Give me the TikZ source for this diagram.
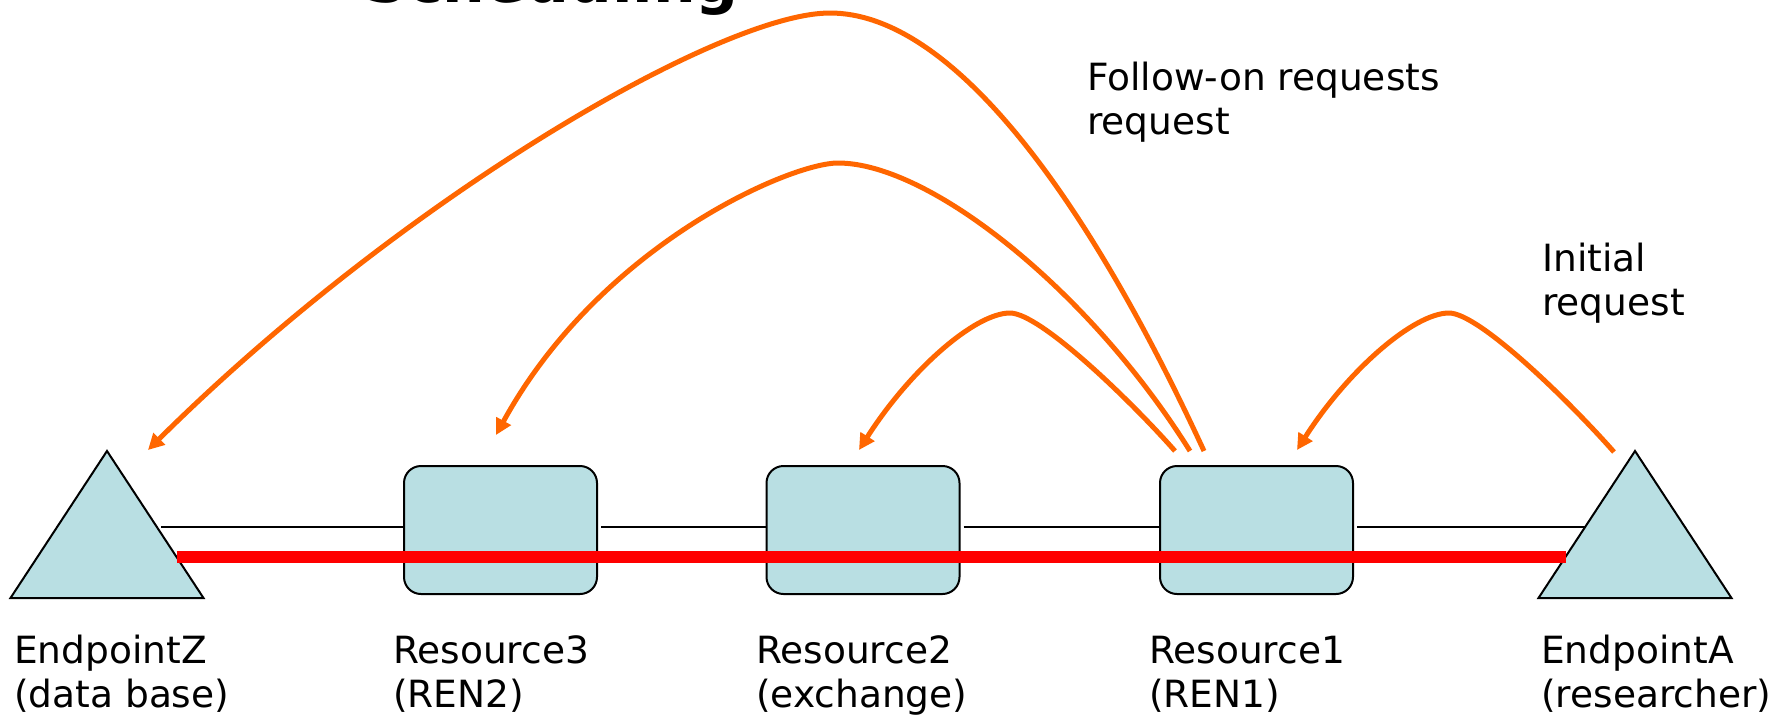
\documentclass[tikz,border=0pt]{standalone}
\usepackage{fontspec}
\setmainfont{DejaVu Sans}
\usetikzlibrary{shapes.geometric,arrows.meta,calc}
\definecolor{boxblue}{RGB}{185,223,227}
\definecolor{reqorange}{RGB}{255,102,0}
\definecolor{pathred}{RGB}{255,0,0}
\tikzset{
  resbox/.style={rectangle, rounded corners=17pt, minimum width=193pt, minimum height=128pt,
    draw=black, line width=2pt, fill=boxblue, inner sep=0pt, outer sep=0pt},
  endtri/.style={isosceles triangle, isosceles triangle stretches, shape border rotate=90,
    minimum width=193pt, minimum height=147pt, inner sep=0pt, outer sep=0pt,
    draw=black, line width=2pt, fill=boxblue},
  link/.style={draw=black, line width=2pt, shorten <=4pt},
  redline/.style={draw=pathred, line width=12pt},
  req/.style={draw=reqorange, line width=5pt, -{Triangle[length=16pt,width=16pt]}},
  lbl/.style={align=left, inner sep=0pt, anchor=base west, font=\fontsize{37.5pt}{44pt}\selectfont},
  ttl/.style={inner sep=0pt, anchor=base west, font=\bfseries\fontsize{60pt}{62pt}\selectfont}
}
\begin{document}
\begin{tikzpicture}[x=1pt,y=-1pt]
\useasboundingbox (0,0) rectangle (1786,716);
\clip (0,0) rectangle (1786,716);

% title (cut off at the top)
\node[ttl] (title) at (364,2) {Scheduling};

% resources and endpoints
\node[resbox] (r3) at (500.5,530) {};
\node[resbox] (r2) at (863,530) {};
\node[resbox] (r1) at (1256.5,530) {};
\node[endtri, anchor=apex] (tz) at (107,451) {};
\node[endtri, anchor=apex] (ta) at (1635,451) {};

% thin links
\draw[link] ($(tz.apex)+(50,76)$) -- ($(r3.west)+(0,-3)$);
\draw[link] ($(r3.east)+(0,-3)$) -- ($(r2.west)+(0,-3)$);
\draw[link] ($(r2.east)+(0,-3)$) -- ($(r1.west)+(0,-3)$);
\draw[link] ($(r1.east)+(0,-3)$) -- ($(ta.apex)+(-50,76)$);

% red path
\draw[redline] ($(tz.apex)+(69.5,106)$) -- ($(ta.apex)+(-69.5,106)$);

% request arrows
\coordinate (pkT) at (830,13);
\coordinate (pkM) at (838,163);
\coordinate (pkS) at (1010,313);
\coordinate (pkI) at (1449,313);
\draw[req] ($(r1.north)+(-52.5,-15)$) .. controls +(-120,-260) and +(120,0) .. (pkT)
  .. controls +(-110,0) and +(252,-250) .. ($(tz.apex)+(41,-1)$);
\draw[req] ($(r1.north)+(-66.5,-15)$) .. controls +(-100,-160) and +(92,0) .. (pkM)
  .. controls +(-48,0) and +(104,-190) .. ($(r3.north)+(-4.5,-31)$);
\draw[req] ($(r1.north)+(-81.5,-15)$) .. controls +(-45,-51) and +(30,0) .. (pkS)
  .. controls +(-35,0) and +(51,-80) .. ($(r2.north)+(-4,-16)$);
\draw[req] ($(ta.apex)+(-21,1)$) .. controls +(-45,-51) and +(30,0) .. (pkI)
  .. controls +(-35,0) and +(51,-80) .. ($(r1.north)+(40.5,-16)$);

% labels (anchored at the baseline of their last line)
\node[lbl] (lfollow) at (1087,134) {Follow-on requests\\request};
\node[lbl] (linit) at (1542,315) {Initial\\request};
\node[lbl] (lz) at (14,707) {EndpointZ\\(data base)};
\node[lbl] (l3) at (393,707) {Resource3\\(REN2)};
\node[lbl] (l2) at (756,707) {Resource2\\(exchange)};
\node[lbl] (l1) at (1149,707) {Resource1\\(REN1)};
\node[lbl] (la) at (1541,707) {EndpointA\\(researcher)};
\end{tikzpicture}
\end{document}
